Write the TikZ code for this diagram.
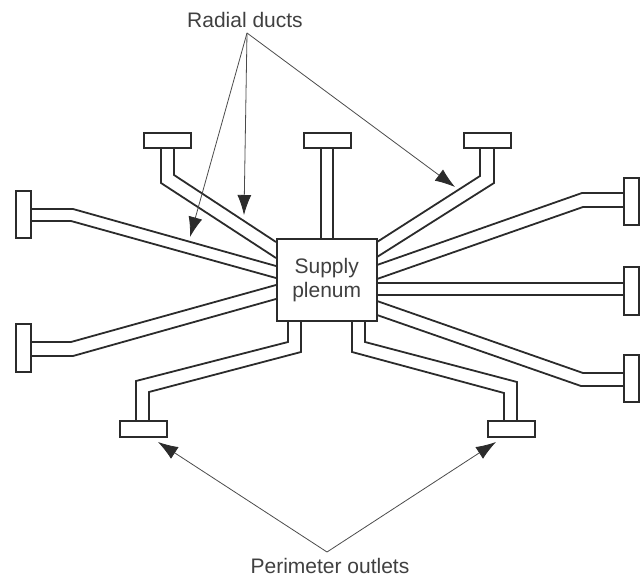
\documentclass[tikz,border=0pt]{standalone}
\usepackage{fontspec}
\setmainfont{Liberation Sans}
\usetikzlibrary{arrows.meta}
\definecolor{ink}{HTML}{2B2B2B}
\tikzset{
  every node/.style={inner sep=0pt,outer sep=0pt},
  boxh/.style={draw=ink,line width=1.9pt,fill=white,minimum width=47.5pt,minimum height=15.5pt},
  boxv/.style={draw=ink,line width=1.9pt,fill=white,minimum width=15.5pt,minimum height=47.5pt},
  plenum/.style={draw=ink,line width=2pt,fill=white,minimum width=100pt,minimum height=81pt,align=center,font=\fontsize{21}{24}\selectfont,text=ink!90},
  duct/.style={draw=ink,line width=1.8pt,line join=miter},
  lead/.style={draw=ink!85,line width=0.8pt,-{Latex[length=20pt,width=14pt,color=ink]}},
  caption/.style={font=\fontsize{21}{24}\selectfont,text=ink!90}
}
\begin{document}
\begin{tikzpicture}[x=1pt,y=-1pt]
\useasboundingbox (0,0) rectangle (642,577);
% ducts
\draw[duct] (161,149) -- (161,183) -- (276,258);
\draw[duct] (174,149) -- (174,175) -- (276,242);
\draw[duct] (321,149) -- (321,240);
\draw[duct] (333,149) -- (333,240);
\draw[duct] (480,149) -- (480,176) -- (377,242);
\draw[duct] (494,149) -- (494,183) -- (377,257);
\draw[duct] (32,209) -- (73,209) -- (276,266);
\draw[duct] (32,221) -- (71,221) -- (276,278);
\draw[duct] (276,285) -- (71,342) -- (32,342);
\draw[duct] (276,299) -- (73,356) -- (32,356);
\draw[duct] (288,321) -- (288,342) -- (136,381) -- (136,421);
\draw[duct] (301,321) -- (301,352) -- (149,392) -- (149,421);
\draw[duct] (352,321) -- (352,352) -- (504,393) -- (504,421);
\draw[duct] (365,321) -- (365,342) -- (517,382) -- (517,421);
\draw[duct] (377,265) -- (582,193) -- (623,193);
\draw[duct] (377,279) -- (583,207) -- (623,207);
\draw[duct] (377,283) -- (623,283);
\draw[duct] (377,295) -- (623,295);
\draw[duct] (377,301) -- (583,373) -- (623,373);
\draw[duct] (377,315) -- (581,386) -- (623,386);
% plenum and outlets
\node[plenum] (sp) at (326.7,280) {Supply\\plenum};
\node[boxh] (o1) at (167.5,140.5) {};
\node[boxh] (o2) at (327.5,140.5) {};
\node[boxh] (o3) at (487.5,140.5) {};
\node[boxv] (o4) at (23.5,214.5) {};
\node[boxv] (o5) at (23.5,348) {};
\node[boxh] (o6) at (143.5,429) {};
\node[boxh] (o7) at (511.5,429) {};
\node[boxv] (o8) at (631.5,201.5) {};
\node[boxv] (o9) at (631.5,291) {};
\node[boxv] (o10) at (631.5,378.5) {};
% labels
\node[caption] (rd) at (245,20) {Radial ducts};
\node[caption] (po) at (330,566) {Perimeter outlets};
\coordinate (ra) at (247,33);
\coordinate (pa) at (327,552);
\coordinate (t1) at (190,237);
\coordinate (t2) at (244,215);
\coordinate (t3) at (455,187);
\coordinate (t4) at (158,442);
\coordinate (t5) at (496,442);
\draw[lead] (ra) -- (t1);
\draw[lead] (ra) -- (t2);
\draw[lead] (ra) -- (t3);
\draw[lead] (pa) -- (t4);
\draw[lead] (pa) -- (t5);
\end{tikzpicture}
\end{document}
